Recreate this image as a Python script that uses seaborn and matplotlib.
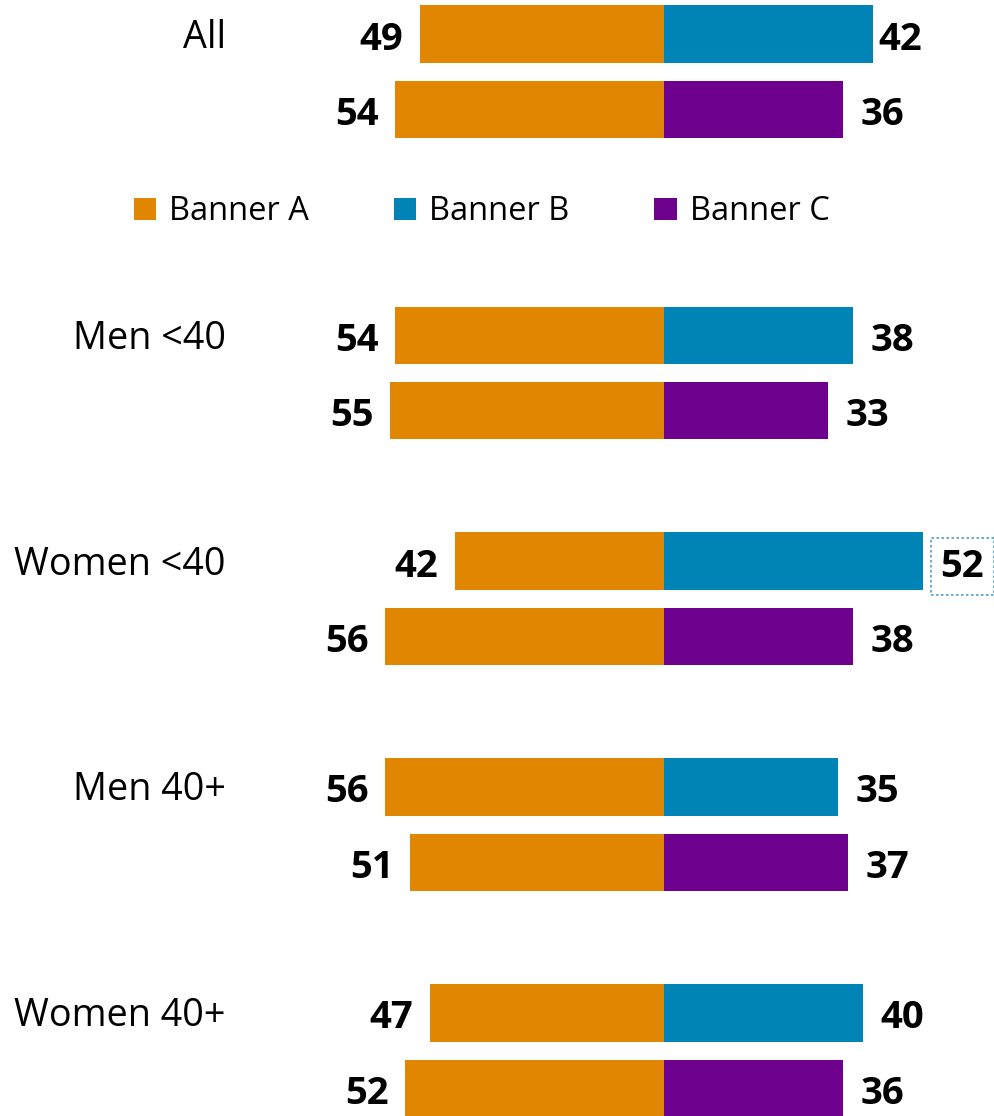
import matplotlib
matplotlib.use("Agg")
import matplotlib.pyplot as plt
from matplotlib.patches import Patch
import seaborn as sns
import pandas as pd

# ---- data ----
groups = ["All", "Men <40", "Women <40", "Men 40+", "Women 40+"]
banner_a_vs_b = [49, 54, 42, 56, 47]   # Banner A (row paired with B)
banner_b = [42, 38, 52, 35, 40]
banner_a_vs_c = [54, 55, 56, 51, 52]   # Banner A (row paired with C)
banner_c = [36, 33, 38, 37, 36]
series_names = ["Banner A", "Banner B", "Banner C"]
colors = {"Banner A": "#E08600", "Banner B": "#0083B5", "Banner C": "#6E008E"}

# ---- layout ----
sns.set_theme(style="white")
plt.rcParams["font.family"] = ["Open Sans", "DejaVu Sans"]
plt.rcParams["text.color"] = "black"

W, H = 994, 1116
fig = plt.figure(figsize=(W / 100, H / 100), dpi=100)
ax = fig.add_axes([0, 0, 1, 1])

center_px = 664.0
px_per_unit = 4.98
slot_px = 75.3
first_px = 34.0
xlim = (-center_px / px_per_unit, (W - center_px) / px_per_unit)
ylim = ((H - first_px) / slot_px, -first_px / slot_px)

top_slots = [0, 4, 7, 10, 13]

rows = []
for i, g in enumerate(groups):
    t = top_slots[i]
    rows.append(dict(pos=t, value=-banner_a_vs_b[i], series="Banner A"))
    rows.append(dict(pos=t, value=banner_b[i], series="Banner B"))
    rows.append(dict(pos=t + 1, value=-banner_a_vs_c[i], series="Banner A"))
    rows.append(dict(pos=t + 1, value=banner_c[i], series="Banner C"))
df = pd.DataFrame(rows)

sns.barplot(data=df, x="value", y="pos", hue="series", orient="h",
            native_scale=True, dodge=False, width=0.76, palette=colors,
            saturation=1, linewidth=0, legend=False, ax=ax)

ax.set_xlim(*xlim)
ax.set_ylim(*ylim)
ax.axis("off")

off_l = 16.5 / px_per_unit
off_r = 17.5 / px_per_unit
num_fs = 27.5
lab_dy = 13.5 / slot_px   # baseline offset for category labels
num_dy = 15.5 / slot_px   # baseline offset for numbers
for i, g in enumerate(groups):
    t = top_slots[i]
    ax.text(226 / W, t + lab_dy, g, transform=ax.get_yaxis_transform(),
            ha="right", va="baseline", fontsize=27.2, color="black")
    # left labels
    ax.text(-banner_a_vs_b[i] - off_l, t + num_dy, str(banner_a_vs_b[i]),
            ha="right", va="baseline", fontsize=num_fs, fontweight="bold",
            color="black")
    ax.text(-banner_a_vs_c[i] - off_l, t + 1 + num_dy, str(banner_a_vs_c[i]),
            ha="right", va="baseline", fontsize=num_fs, fontweight="bold",
            color="black")
    # right labels
    if i == 0:
        rx = banner_b[i] + 5 / px_per_unit
    else:
        rx = banner_b[i] + off_r
    kw = {}
    if g == "Women <40":
        kw["bbox"] = dict(boxstyle="square,pad=0.25", fc="none", ec="#4F9BD0",
                          ls=(0, (1.5, 1.5)), lw=1.2)
    ax.text(rx, t + num_dy, str(banner_b[i]), ha="left", va="baseline",
            fontsize=num_fs, fontweight="bold", color="black", **kw)
    ax.text(banner_c[i] + off_r, t + 1 + num_dy, str(banner_c[i]), ha="left",
            va="baseline", fontsize=num_fs, fontweight="bold", color="black")

handles = [Patch(facecolor=colors[s], edgecolor="none", label=s) for s in series_names]
leg = ax.legend(handles=handles, ncol=3, loc="center left",
                bbox_to_anchor=(134 / W, 1 - 212 / H), bbox_transform=fig.transFigure,
                frameon=False, fontsize=23.5, handlelength=0.68, handleheight=0.68,
                handletextpad=0.4, columnspacing=2.6, borderpad=0, borderaxespad=0)
for txt in leg.get_texts():
    txt.set_color("black")

fig.savefig("out.png", dpi=100)
